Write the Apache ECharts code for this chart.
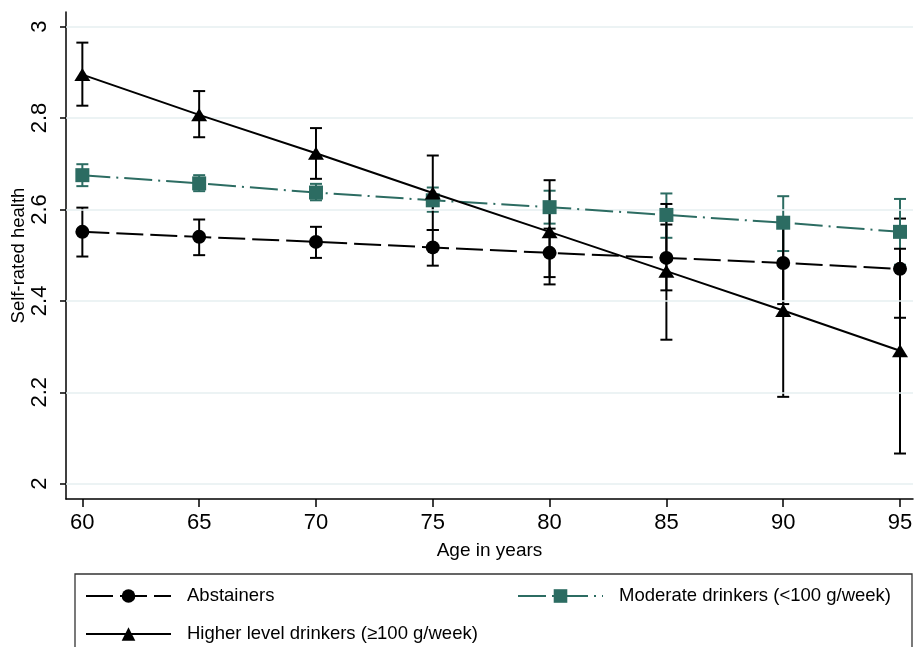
<!DOCTYPE html>
<html>
<head>
<meta charset="utf-8">
<style>
  html, body { margin: 0; padding: 0; background: #ffffff; }
  #chart { width: 914px; height: 647px; }
</style>
<script src="https://cdn.jsdelivr.net/npm/echarts@6/dist/echarts.min.js"></script>
</head>
<body>
<div id="chart"></div>
<script>
// ---- data ----
const ages = [60, 65, 70, 75, 80, 85, 90, 95];
const xTicks = [60, 65, 70, 75, 80, 85, 90, 95];
const yTicks = [2, 2.2, 2.4, 2.6, 2.8, 3];
const yTickLabels = ['2', '2.2', '2.4', '2.6', '2.8', '3'];

const seriesNames = ['Abstainers', 'Moderate drinkers (<100 g/week)', 'Higher level drinkers (\u2265100 g/week)'];

const abstMean = [2.551, 2.540, 2.529, 2.517, 2.505, 2.494, 2.483, 2.470];
const abstLo   = [2.497, 2.500, 2.494, 2.477, 2.452, 2.423, 2.393, 2.363];
const abstHi   = [2.604, 2.578, 2.562, 2.555, 2.558, 2.567, 2.573, 2.580];

const modMean = [2.675, 2.657, 2.637, 2.620, 2.605, 2.588, 2.571, 2.551];
const modLo   = [2.651, 2.640, 2.620, 2.595, 2.569, 2.538, 2.509, 2.479];
const modHi   = [2.699, 2.675, 2.656, 2.648, 2.641, 2.635, 2.629, 2.623];

const highMean = [2.895, 2.807, 2.723, 2.636, 2.551, 2.465, 2.379, 2.291];
const highLo   = [2.827, 2.758, 2.667, 2.555, 2.436, 2.315, 2.190, 2.066];
const highHi   = [2.965, 2.859, 2.778, 2.718, 2.664, 2.612, 2.568, 2.514];

// ---- chart ----
const FONT = '"Liberation Sans", Arial, Helvetica, sans-serif';
const TEAL = '#2c6c62';
const chart = echarts.init(document.getElementById('chart'), null, { renderer: 'canvas' });

function pts(means) { return ages.map((a, i) => [a, means[i]]); }
function ci(lo, hi) { return ages.map((a, i) => [a, lo[i], hi[i]]); }

function errorBars(name, lo, hi, color) {
  return {
    type: 'custom',
    name: name + ' CI',
    z: 3,
    silent: true,
    data: ci(lo, hi),
    renderItem: function (params, api) {
      const x = api.value(0);
      const pLo = api.coord([x, api.value(1)]);
      const pHi = api.coord([x, api.value(2)]);
      const hw = 6;
      const st = { stroke: color, lineWidth: 2 };
      return {
        type: 'group',
        children: [
          { type: 'line', shape: { x1: pLo[0], y1: pLo[1], x2: pHi[0], y2: pHi[1] }, style: st },
          { type: 'line', shape: { x1: pLo[0] - hw, y1: pLo[1], x2: pLo[0] + hw, y2: pLo[1] }, style: st },
          { type: 'line', shape: { x1: pHi[0] - hw, y1: pHi[1], x2: pHi[0] + hw, y2: pHi[1] }, style: st }
        ]
      };
    }
  };
}

const legendText = { color: '#000', fontFamily: FONT, fontSize: 18.5, padding: [0, 0, 0, 11], lineHeight: 20 };

const option = {
  backgroundColor: '#ffffff',
  animation: false,
  grid: { left: 66, right: 1, top: 12, bottom: 148, containLabel: false, outerBoundsMode: 'none' },
  xAxis: {
    type: 'value',
    min: 59.30,
    max: 95.556,
    name: 'Age in years',
    nameLocation: 'middle',
    nameGap: 42,
    nameMoveOverlap: false,
    nameTextStyle: { color: '#000', fontFamily: FONT, fontSize: 19 },
    axisLine: { show: true, onZero: false, lineStyle: { color: '#000', width: 1.5 } },
    axisTick: { show: true, length: 8, customValues: xTicks, lineStyle: { color: '#000', width: 1.5 } },
    axisLabel: { customValues: xTicks, color: '#000', fontFamily: FONT, fontSize: 22, margin: 13 },
    splitLine: { show: false }
  },
  yAxis: {
    type: 'value',
    min: 1.9665,
    max: 3.032,
    name: 'Self-rated health',
    nameLocation: 'middle',
    nameGap: 38,
    nameMoveOverlap: false,
    nameRotate: 90,
    nameTextStyle: { color: '#000', fontFamily: FONT, fontSize: 18.5 },
    axisLine: { show: true, onZero: false, lineStyle: { color: '#000', width: 1.5 } },
    axisTick: { show: true, length: 6, customValues: yTicks, lineStyle: { color: '#000', width: 1.5 } },
    axisLabel: {
      customValues: yTicks,
      rotate: 90,
      color: '#000', fontFamily: FONT, fontSize: 22, margin: 15,
      formatter: function (v) {
        const i = yTicks.findIndex(t => Math.abs(t - v) < 1e-6);
        return i >= 0 ? yTickLabels[i] : '';
      }
    },
    splitLine: { show: false }
  },
  legend: [
    { data: [seriesNames[0]], left: 85, top: 586, padding: 0, itemWidth: 85, itemHeight: 17, textStyle: legendText },
    { data: [seriesNames[1]], left: 517, top: 586, padding: 0, itemWidth: 85, itemHeight: 17, textStyle: legendText },
    { data: [seriesNames[2]], left: 85, top: 624, padding: 0, itemWidth: 85, itemHeight: 17, textStyle: legendText }
  ],
  graphic: [
    { type: 'rect', shape: { x: 75, y: 574, width: 837, height: 90 }, style: { fill: 'none', stroke: '#333', lineWidth: 1.3 }, silent: true }
  ],
  series: [
    {
      type: 'line', name: 'grid', data: [], z: 1, silent: true,
      markLine: {
        silent: true, symbol: 'none', label: { show: false },
        lineStyle: { color: '#e6eff1', width: 1.5, type: 'solid' },
        data: yTicks.map(v => ({ yAxis: v }))
      }
    },
    errorBars(seriesNames[0], abstLo, abstHi, '#000'),
    errorBars(seriesNames[1], modLo, modHi, TEAL),
    errorBars(seriesNames[2], highLo, highHi, '#000'),
    {
      type: 'line', name: seriesNames[0], data: pts(abstMean), z: 5,
      symbol: 'circle', symbolSize: 14,
      itemStyle: { color: '#000' },
      lineStyle: { color: '#000', width: 2, type: [27, 7] }
    },
    {
      type: 'line', name: seriesNames[1], data: pts(modMean), z: 6,
      symbol: 'rect', symbolSize: 14,
      itemStyle: { color: TEAL },
      lineStyle: { color: TEAL, width: 2, type: [28, 6, 2, 6] }
    },
    {
      type: 'line', name: seriesNames[2], data: pts(highMean), z: 7,
      symbol: 'triangle', symbolSize: [16, 13],
      itemStyle: { color: '#000' },
      lineStyle: { color: '#000', width: 2, type: 'solid' }
    }
  ]
};
chart.setOption(option);
</script>
</body>
</html>
